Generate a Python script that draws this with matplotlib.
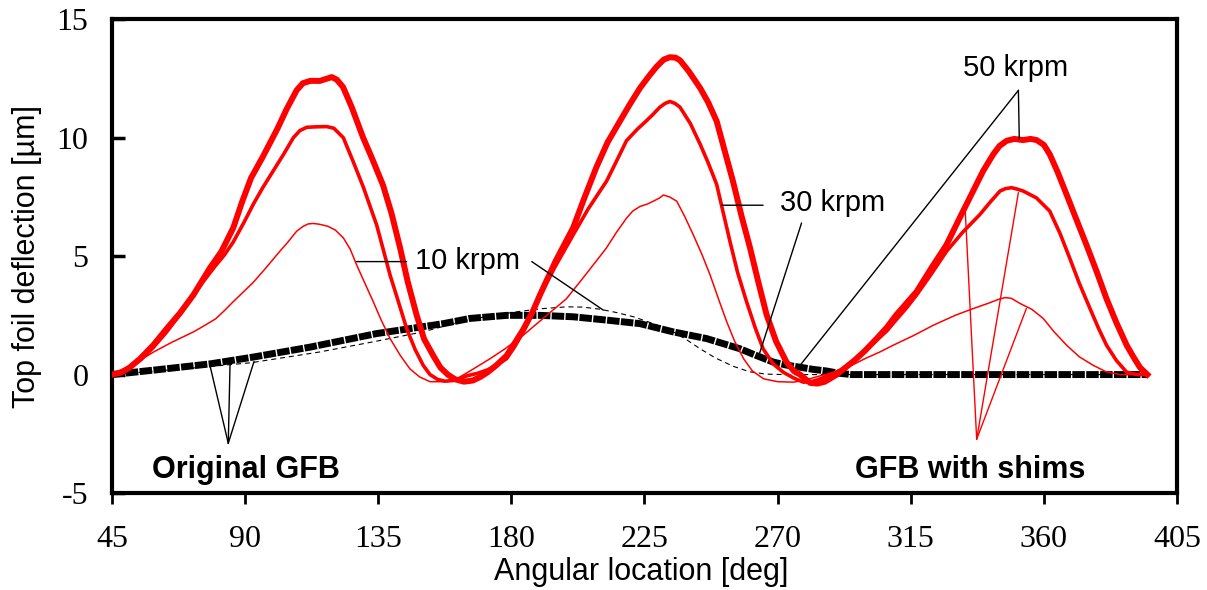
import matplotlib
matplotlib.use("Agg")
import matplotlib.pyplot as plt

plt.rcParams['axes.unicode_minus'] = False

# GFB with shims (red)
x_shim_50 = [45, 48, 51, 54.5, 59, 63.5, 68, 72.5, 78.1, 82, 86, 89, 92, 96, 101, 104, 107.4,
             109.5, 112, 115.3, 119.3, 121, 123.1, 126, 129.9, 133, 136.6, 139.5, 142.4, 145,
             148, 150.5, 153.6, 156, 158.5, 161, 164, 167, 169.5, 172, 175, 178.4, 181, 184,
             187, 189.7, 195, 200.9, 204.5, 208.7, 212.5, 216.7, 220, 223.5, 226.5, 229.1,
             231.5, 233.6, 235.5, 237, 240, 243.8, 246.5, 249.4, 252, 254.9, 257.8, 260.7,
             263.5, 266.3, 269.5, 273, 275.5, 277.6, 279.5, 281, 283.5, 286, 288, 290, 293,
             296, 299.5, 303.5, 307, 310, 313.5, 317, 322, 327.1, 331.5, 336.1, 339.5, 342.9,
             345, 347.4, 350, 353, 355.5, 357.6, 360, 362, 364.5, 367.7, 371, 374.4, 378,
             381.2, 384.5, 388, 390.5, 392.5, 395]
y_shim_50 = [0, 0.08, 0.3, 0.67, 1.25, 1.94, 2.6, 3.36, 4.5, 5.2, 6.2, 7.3, 8.3, 9.2, 10.4, 11.2,
             12.0, 12.3, 12.4, 12.4, 12.56, 12.45, 12.14, 11.3, 10.0, 9.1, 8.0, 6.8, 5.34, 3.9,
             2.5, 1.5, 0.8, 0.3, 0.0, -0.2, -0.3, -0.25, -0.1, 0.1, 0.4, 0.8, 1.3, 1.9,
             2.6, 3.37, 4.8, 6.2, 7.4, 8.74, 9.8, 10.7, 11.4, 12.1, 12.6, 13.0,
             13.3, 13.4, 13.38, 13.27, 12.8, 12.1, 11.5, 10.7, 9.5, 8.17, 6.7, 5.34,
             3.9, 2.52, 1.4, 0.53, 0.15, 0.0, -0.2, -0.35, -0.38, -0.3, -0.15, 0, 0.3,
             0.6, 1.0, 1.52, 2.0, 2.5, 3.0, 3.5, 4.5, 5.48, 6.6, 7.75, 8.6, 9.3,
             9.65, 9.87, 9.95, 9.9, 9.95, 9.9, 9.7, 9.3, 8.6, 7.6, 6.55, 5.48, 4.3,
             3.2, 2.2, 1.24, 0.7, 0.3, 0]

x_shim_30 = [45, 50, 54.5, 59, 63.5, 68, 72.5, 76, 80, 83, 86, 89.5, 92.8, 96, 99.5, 103,
             106.3, 108.5, 110.8, 114, 117.6, 120, 123.2, 126.5, 130, 134.5, 139, 142, 144.6,
             147.5, 150.2, 152.5, 155, 157.5, 160.4, 163, 165, 168.5, 172, 175, 178.4, 181,
             184, 187, 189.7, 195, 200.9, 206, 212.2, 215.5, 218.9, 222.5, 225.7, 228,
             230.2, 232, 233.6, 235.3, 237, 240.5, 243.8, 246.5, 249.4, 251.5, 253.9, 256.5,
             259.5, 262.5, 265.1, 268.5, 271.9, 275.5, 278.7, 281.5, 284, 287, 290, 293, 296,
             299.5, 303.5, 307, 310, 313.5, 317, 322, 327.1, 332.5, 338.4, 342, 345.2, 347,
             349.1, 351, 353, 357.5, 362, 365.5, 368.8, 372, 375.6, 378.5, 381.2, 384.5, 388,
             391.5, 395]
y_shim_30 = [0, 0.25, 0.6, 1.15, 1.8, 2.55, 3.36, 3.95, 4.6, 5.05, 5.6, 6.4, 7.2, 7.9, 8.6, 9.3,
             10.0, 10.3, 10.44, 10.46, 10.47, 10.4, 10.0, 9.0, 7.9, 6.3, 4.2, 3.0, 1.94,
             1.05, 0.39, 0.0, -0.2, -0.28, -0.25, -0.15, -0.05, 0.05, 0.2, 0.4, 0.67, 1.15,
             1.8, 2.55, 3.36, 4.6, 5.9, 7.0, 8.17, 9.0, 9.87, 10.35, 10.72, 11.0,
             11.29, 11.45, 11.53, 11.45, 11.29, 10.6, 9.73, 8.95, 8.03, 6.9, 5.62, 4.3,
             3.08, 1.95, 1.09, 0.45, 0.1, -0.15, -0.32, -0.3, -0.2, -0.05, 0.1, 0.32, 0.6,
             1.0, 1.45, 1.85, 2.3, 2.8, 3.36, 4.25, 5.2, 6.0, 6.76, 7.3, 7.75, 7.85,
             7.89, 7.83, 7.75, 7.46, 6.9, 5.95, 4.9, 3.85, 2.79, 1.95, 1.24, 0.6, 0.1,
             0.0, 0]

x_shim_10 = [45, 48.5, 52, 55.5, 59, 65, 72.5, 76, 80, 83, 86, 89.5, 92.8, 97, 101.7, 104.5,
             107.4, 109.5, 111.3, 113, 115, 118, 120.5, 123.2, 125.5, 127.7, 130.5, 133.3, 136,
             139, 142.5, 145.7, 149, 152.5, 157, 161.5, 166, 172.8, 178, 184, 191, 198.6, 205,
             212.1, 215.5, 218.9, 221, 223.5, 226, 228, 230, 231.4, 233.5, 235.9, 238.5,
             241.5, 244.5, 247.2, 250, 252.8, 255.5, 258.5, 261.5, 265.3, 270, 275.3, 279,
             283, 287.5, 292.2, 296, 300, 304.5, 309.1, 316, 322.6, 330, 336.2, 341, 345.2,
             347, 349, 352, 356, 359.8, 363.5, 367.7, 372, 376.7, 381, 385.7, 390, 395]
y_shim_10 = [0, 0.15, 0.4, 0.68, 0.95, 1.35, 1.8, 2.05, 2.35, 2.7, 3.08, 3.5, 3.9, 4.5, 5.2,
             5.6, 6.05, 6.25, 6.36, 6.38, 6.35, 6.26, 6.1, 5.77, 5.3, 4.63, 3.85, 3.08, 2.3,
             1.52, 0.8, 0.24, -0.1, -0.3, -0.3, -0.18, 0.15, 0.67, 1.1, 1.66, 2.4, 3.2, 4.2,
             5.34, 6.0, 6.6, 6.9, 7.1, 7.2, 7.32, 7.45, 7.58, 7.5, 7.32, 6.7,
             5.9, 5.05, 4.2, 3.2, 2.23, 1.4, 0.67, 0.15, -0.18, -0.3, -0.32, -0.25,
             -0.1, 0.05, 0.24, 0.45, 0.7, 0.95, 1.24, 1.65, 2.08, 2.5, 2.79, 3.0, 3.2,
             3.25, 3.22, 3.0, 2.75, 2.37, 1.8, 1.24, 0.75, 0.39, 0.12, 0, 0, 0]

# Original GFB (black)
x_orig = [45, 60, 78.1, 92.8, 112, 134.4, 157, 166, 178.4, 189.7, 200.9, 212.2, 223.5, 234.8,
          246, 257.3, 262.5, 268.5, 273, 277.6, 282, 286.6, 290.5, 295, 320, 350, 395]
y_orig = [0, 0.2, 0.45, 0.74, 1.16, 1.73, 2.15, 2.37, 2.5, 2.5, 2.44, 2.3, 2.15, 1.8,
          1.52, 1.09, 0.82, 0.53, 0.4, 0.31, 0.22, 0.15, 0.06, 0, 0, 0, 0]

x_orig_10 = [45, 70, 92, 115, 134, 150, 165, 174, 181.8, 190, 198.7, 204, 210, 215.5, 221.3,
             228, 234.8, 239.5, 243.8, 249, 255, 260.5, 266, 272, 280, 320, 395]
y_orig_10 = [0, 0.25, 0.5, 0.95, 1.4, 1.8, 2.3, 2.5, 2.65, 2.78, 2.86, 2.85, 2.76, 2.62, 2.44,
             2.15, 1.8, 1.45, 1.09, 0.7, 0.35, 0.12, 0.02, 0, 0, 0, 0]

xticks = [45, 90, 135, 180, 225, 270, 315, 360, 405]
yticks = [-5, 0, 5, 10, 15]

fig = plt.figure(figsize=(12.07, 5.90), dpi=100)
ax = fig.add_axes([0.0928, 0.1644, 0.9751 - 0.0928, 0.9673 - 0.1644])

ax.plot(x_orig_10, y_orig_10, color='black', lw=0.8, dashes=(4.5, 3.5), zorder=2)
ax.plot(x_orig, y_orig, color='black', lw=5, dashes=(1.8, 0.2), solid_capstyle='butt',
        dash_capstyle='butt', zorder=3)
ax.plot(x_shim_10, y_shim_10, color='red', lw=1.1, solid_joinstyle='round', zorder=4)
ax.plot(x_shim_30, y_shim_30, color='red', lw=2.6, solid_joinstyle='round', zorder=5)
ax.plot(x_shim_50, y_shim_50, color='red', lw=4.3, solid_joinstyle='round', zorder=6)

ax.set_xlim(45, 405)
ax.set_ylim(-5, 15)
ax.set_xticks(xticks)
ax.set_yticks(yticks)

serif = 'Liberation Serif'
sans = 'Liberation Sans'
for lab in ax.get_xticklabels() + ax.get_yticklabels():
    lab.set_fontfamily(serif)
    lab.set_fontsize(23)
ax.tick_params(axis='x', direction='out', length=8, width=2, pad=15)
ax.tick_params(axis='y', direction='in', length=9, width=2.5, pad=17)
for s in ax.spines.values():
    s.set_linewidth(3)

ax.set_xlabel('Angular location [deg]', fontfamily=sans, fontsize=22)
ax.set_ylabel('Top foil deflection [µm]', fontfamily=sans, fontsize=22)
ax.xaxis.set_label_coords(0.497, -0.135)
ax.yaxis.set_label_coords(-0.066, 0.5)

# annotations
kw = dict(fontfamily=sans, fontsize=21, va='baseline', ha='left')
ax.text(147.4, 4.46, '10 krpm', **kw)
ax.text(270.8, 6.9, '30 krpm', **kw)
ax.text(332.8, 12.59, '50 krpm', **kw)
bkw = dict(fontfamily=sans, fontsize=22, fontweight='bold', va='baseline', ha='left')
ax.text(58.5, -4.35, 'Original GFB', **bkw)
ax.text(296.2, -4.35, 'GFB with shims', **bkw)

def leader(p0, p1, color='black', lw=1.0):
    ax.annotate('', xy=p1, xytext=p0,
                arrowprops=dict(arrowstyle='-', color=color, lw=lw,
                                shrinkA=0, shrinkB=0), zorder=7)

leader((127.7, 4.77), (144.6, 4.77))
leader((186.9, 4.77), (211.1, 2.72))
leader((251.1, 7.15), (265.1, 7.15))
leader((278.1, 6.4), (263.5, 0.74))
leader((351.4, 12.0), (351.7, 9.94))
leader((351.4, 12.0), (277.6, 0.39))
for p in [(78.1, 0.39), (84.9, 0.45), (93, 0.55)]:
    leader((84.3, -2.9), p)
for p in [(333.3, 7.25), (351.4, 7.68), (354.1, 2.79)]:
    leader((337.3, -2.73), p, color='red')

fig.savefig('out.png', dpi=100)
